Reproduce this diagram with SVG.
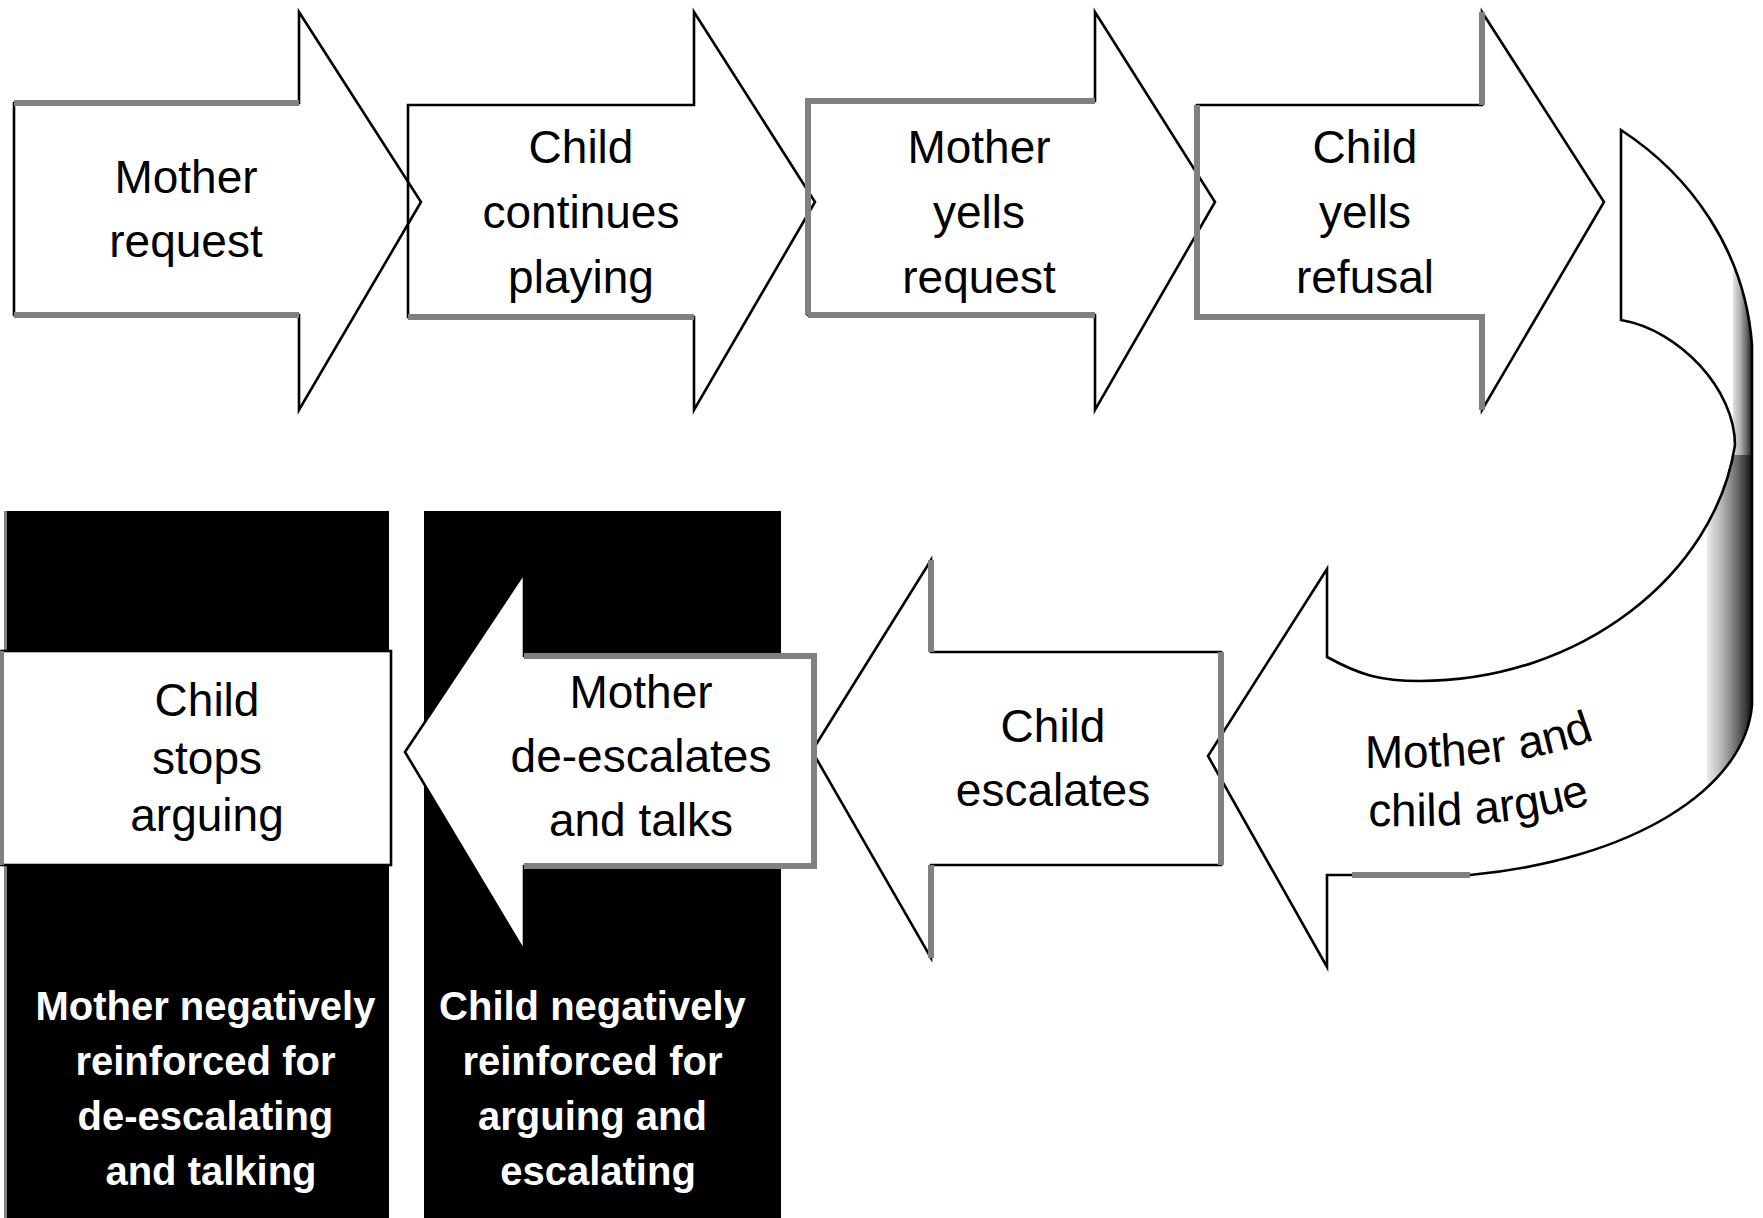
<svg xmlns="http://www.w3.org/2000/svg" width="1763" height="1218" viewBox="0 0 1763 1218">
  <defs>
    <style>
      .shape { fill: none; stroke: #000; stroke-width: 2.6; stroke-linejoin: miter; }
      .filled { fill: #fff; }
      .soft { fill: none; stroke: #808080; stroke-width: 6; stroke-linecap: butt; }
      .panel { fill: #000; }
      .label { font-family: "Liberation Sans", Arial, Helvetica, sans-serif; font-size: 46px; fill: #000; text-anchor: middle; }
      .curved { font-family: "Liberation Sans", Arial, Helvetica, sans-serif; font-size: 46px; fill: #000; }
      .note { font-family: "Liberation Sans", Arial, Helvetica, sans-serif; font-size: 40px; font-weight: bold; fill: #fff; text-anchor: middle; }
    </style>
    <!-- shading for the turned edge of the U-ribbon -->
    <linearGradient id="edgeShadeTop" gradientUnits="userSpaceOnUse" x1="1733" y1="0" x2="1754" y2="0">
      <stop offset="0" stop-color="#e0e0e0"/>
      <stop offset="0.35" stop-color="#b0b0b0"/>
      <stop offset="0.65" stop-color="#666"/>
      <stop offset="1" stop-color="#000"/>
    </linearGradient>
    <linearGradient id="edgeShadeLow" gradientUnits="userSpaceOnUse" x1="1707" y1="0" x2="1754" y2="0">
      <stop offset="0" stop-color="#ececec"/>
      <stop offset="0.3" stop-color="#b8b8b8"/>
      <stop offset="0.55" stop-color="#808080"/>
      <stop offset="0.8" stop-color="#404040"/>
      <stop offset="1" stop-color="#000"/>
    </linearGradient>
    <path id="ribbonOutline" d="M1621,130 C1690,175 1745,250 1752,345 L1752,705 C1745,790 1630,860 1470,875 L1327,875 L1327,967 L1208,756 L1327,569 L1327,657 C1360,675 1380,681 1420,681 C1580,681 1715,575 1735,445 C1735,390 1680,330 1621,320 Z"/>
    <clipPath id="ribbonClip">
      <use href="#ribbonOutline"/>
    </clipPath>
    <path id="argueLine1" d="M1365,768 C1450,768 1540,765 1605,735"/>
    <path id="argueLine2" d="M1368,826 C1460,827 1540,824 1605,798"/>
  </defs>

  <rect x="0" y="0" width="1763" height="1218" fill="#fff"/>

  <!-- black panels behind the last two steps -->
  <g id="panel-mother-reinforced">
    <rect class="panel" x="4" y="511" width="385" height="707"/>
    <line x1="5.5" y1="511" x2="5.5" y2="1218" stroke="#808080" stroke-width="3"/>
    <text class="note">
      <tspan x="211" y="1020">Mother negatively</tspan>
      <tspan x="211" y="1075">reinforced for</tspan>
      <tspan x="211" y="1130">de-escalating</tspan>
      <tspan x="211" y="1185">and talking</tspan>
    </text>
  </g>

  <g id="panel-child-reinforced">
    <rect class="panel" x="424" y="511" width="357" height="707"/>
    <text class="note">
      <tspan x="598" y="1020">Child negatively</tspan>
      <tspan x="598" y="1075">reinforced for</tspan>
      <tspan x="598" y="1130">arguing and</tspan>
      <tspan x="598" y="1185">escalating</tspan>
    </text>
  </g>

  <!-- top row, left to right -->
  <g id="n-mother-request">
    <path class="shape" d="M14,103 H299 V12 L421,202 L299,410 V315 H14 Z"/>
    <path class="soft" d="M14,103 H299 M14,315 H299"/>
    <text class="label"><tspan x="186" y="193">Mother</tspan><tspan x="186" y="257">request</tspan></text>
  </g>

  <g id="n-child-continues">
    <path class="shape" d="M408,105 H694 V12 L815,202 L694,410 V317 H408 Z"/>
    <path class="soft" d="M408,317 H694"/>
    <text class="label"><tspan x="581" y="163">Child</tspan><tspan x="581" y="228">continues</tspan><tspan x="581" y="293">playing</tspan></text>
  </g>

  <g id="n-mother-yells">
    <path class="shape" d="M808,101 H1095 V12 L1215,202 L1095,410 V315 H808 Z"/>
    <path class="soft" d="M808,315 V101 H1095 M808,315 H1095"/>
    <text class="label"><tspan x="979" y="163">Mother</tspan><tspan x="979" y="228">yells</tspan><tspan x="979" y="293">request</tspan></text>
  </g>

  <g id="n-child-yells">
    <path class="shape" d="M1197,105 H1482 V12 L1604,202 L1482,410 V317 H1197 Z"/>
    <path class="soft" d="M1197,105 V317 H1482 V410 M1482,105 V12"/>
    <text class="label"><tspan x="1365" y="163">Child</tspan><tspan x="1365" y="228">yells</tspan><tspan x="1365" y="293">refusal</tspan></text>
  </g>

  <!-- U-turn ribbon arrow -->
  <g id="n-argue">
    <use href="#ribbonOutline" fill="#fff"/>
    <g clip-path="url(#ribbonClip)">
      <path d="M1733,270 H1760 V455 H1733 Z" fill="url(#edgeShadeTop)"/>
      <path d="M1760,455 V800 H1707 V517 L1722,488 L1731,465 L1733,455 Z" fill="url(#edgeShadeLow)"/>
    </g>
    <use href="#ribbonOutline" class="shape"/>
    <path class="soft" d="M1352,875 H1470"/>
    <text class="curved"><textPath href="#argueLine1">Mother and</textPath></text>
    <text class="curved"><textPath href="#argueLine2">child argue</textPath></text>
  </g>

  <!-- bottom row, right to left -->
  <g id="n-child-escalates">
    <path class="shape" d="M812,751 L931,560 V652 H1221 V865 H931 V958 Z"/>
    <path class="soft" d="M931,560 V652 M1221,652 V865 M931,865 V958"/>
    <text class="label"><tspan x="1053" y="742">Child</tspan><tspan x="1053" y="806">escalates</tspan></text>
  </g>

  <g id="n-mother-deescalates">
    <path class="shape filled" d="M405,752 L524,573 V656 H814 V866 H524 V951 Z"/>
    <path class="soft" d="M524,656 H814 V866 H524"/>
    <text class="label"><tspan x="641" y="708">Mother</tspan><tspan x="641" y="772">de-escalates</tspan><tspan x="641" y="836">and talks</tspan></text>
  </g>

  <g id="n-child-stops">
    <rect class="shape filled" x="1.5" y="651" width="389.5" height="214"/>
    <line x1="2" y1="651" x2="2" y2="865" stroke="#808080" stroke-width="4"/>
    <text class="label"><tspan x="207" y="716">Child</tspan><tspan x="207" y="774">stops</tspan><tspan x="207" y="831">arguing</tspan></text>
  </g>
</svg>
